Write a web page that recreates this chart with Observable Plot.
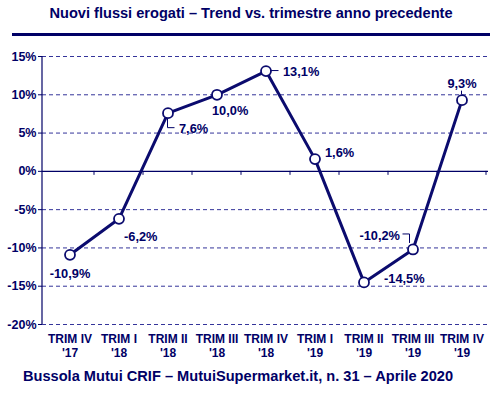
<!DOCTYPE html>
<html><head><meta charset="utf-8">
<script src="https://cdn.jsdelivr.net/npm/d3@7"></script>
<script src="https://cdn.jsdelivr.net/npm/@observablehq/plot@0.6"></script>
<style>
body{margin:0;background:#fff;}
#wrap{position:relative;width:500px;height:395px;overflow:hidden;font-family:"Liberation Sans",Arial,sans-serif;color:#000066;}
#chart{position:absolute;top:0;left:0;}
#title{position:absolute;top:5px;left:0;width:502px;text-align:center;font-weight:bold;font-size:14.6px;line-height:16px;white-space:nowrap;}
#rule{position:absolute;top:33px;left:12px;width:478px;height:3px;background:#000066;}
#foot{position:absolute;top:368px;left:23px;font-weight:bold;font-size:14.6px;line-height:16px;white-space:nowrap;}
</style></head>
<body>
<div id="wrap">
  <div id="chart"></div>
  <div id="title">Nuovi flussi erogati – Trend vs. trimestre anno precedente</div>
  <div id="rule"></div>
  <div id="foot">Bussola Mutui CRIF – MutuiSupermarket.it, n. 31 – Aprile 2020</div>
</div>
<script>
const categories = ["TRIM IV\n'17","TRIM I\n'18","TRIM II\n'18","TRIM III\n'18","TRIM IV\n'18","TRIM I\n'19","TRIM II\n'19","TRIM III\n'19","TRIM IV\n'19"];
const values = [-10.9, -6.2, 7.6, 10.0, 13.1, 1.6, -14.5, -10.2, 9.3];
const yTicks = [-20, -15, -10, -5, 0, 5, 10, 15];

// label placement (pixel offsets from each point)
const labelPlacement = [
  {dx: 0, dy: 19, anchor: "middle"},
  {dx: 5, dy: 18, anchor: "start"},
  {dx: 11, dy: 16, anchor: "start"},
  {dx: -5, dy: 16, anchor: "start"},
  {dx: 17, dy: 1, anchor: "start"},
  {dx: 10, dy: -6, anchor: "start"},
  {dx: 20, dy: -3, anchor: "start"},
  {dx: -13, dy: -14, anchor: "end"},
  {dx: 0, dy: -16, anchor: "middle"}
];
// leader lines (pixel offsets from the point), by index
const leaders = {
  2: [[0,5],[0,15],[7,15]],
  4: [[5,0],[13,0]],
  7: [[-10,-15],[-3,-15],[-3,-6]],
  8: [[0,-5],[0,-9]]
};

const navy = "#000066";
const lineCol = "#0b0b6e";
const gridCol = "#34349a";
const fmt = v => v.toFixed(1).replace(".", ",") + "%";
const data = categories.map((c, i) => ({cat: c, v: values[i], label: fmt(values[i])}));

const labelMarks = data.map((d, i) => Plot.text([d], {
  x: "cat", y: "v", text: "label",
  dx: labelPlacement[i].dx, dy: labelPlacement[i].dy,
  textAnchor: labelPlacement[i].anchor,
  fontSize: 12.8, fontWeight: "bold", fill: navy
}));

function decorations(index, scales, values_, dimensions) {
  const {x, y} = scales;
  const g = d3.create("svg:g");
  const bw = x.bandwidth ? x.bandwidth() : 0;
  const {marginLeft, marginTop, height, marginBottom} = dimensions;
  // y axis line
  g.append("line").attr("x1", marginLeft).attr("x2", marginLeft)
    .attr("y1", marginTop).attr("y2", height - marginBottom)
    .attr("stroke", navy).attr("stroke-width", 1.2);
  // small ticks below the zero line at band boundaries
  const y0 = y(0);
  categories.forEach((c) => {
    const xe = x(c) + bw;
    g.append("line").attr("x1", xe).attr("x2", xe).attr("y1", y0).attr("y2", y0 + 4)
      .attr("stroke", navy).attr("stroke-width", 1);
  });
  // leader lines
  Object.entries(leaders).forEach(([i, pts]) => {
    const px = x(categories[i]) + bw / 2, py = y(values[i]);
    g.append("path")
      .attr("d", d3.line()(pts.map(([a, b]) => [px + a, py + b])))
      .attr("fill", "none").attr("stroke", navy).attr("stroke-width", 1);
  });
  return g.node();
}

const plot = Plot.plot({
  width: 500,
  height: 395,
  marginTop: 56,
  marginBottom: 71,
  marginLeft: 42,
  marginRight: 12,
  style: {fontFamily: "'Liberation Sans', Arial, sans-serif", color: navy, background: "transparent", overflow: "visible"},
  x: {type: "band", domain: categories, padding: 0},
  y: {domain: [-20, 15]},
  marks: [
    Plot.ruleY(yTicks.filter(d => d !== 0), {stroke: gridCol, strokeDasharray: "4,3", strokeWidth: 1}),
    Plot.ruleY([0], {stroke: navy, strokeWidth: 1.2}),
    Plot.axisY({ticks: yTicks, tickFormat: d => d + "%", tickSize: 4, tickPadding: 2, fontSize: 12.5, fontWeight: "bold", color: navy, label: null}),
    Plot.axisX({tickSize: 0, tickPadding: 9, fontSize: 12, fontWeight: "bold", color: navy, label: null, lineHeight: 1.15}),
    decorations,
    Plot.line(data, {x: "cat", y: "v", stroke: lineCol, strokeWidth: 3}),
    Plot.dot(data, {x: "cat", y: "v", r: 5, fill: "white", stroke: lineCol, strokeWidth: 1.8}),
    ...labelMarks
  ]
});
document.getElementById("chart").appendChild(plot);
</script>
</body></html>
